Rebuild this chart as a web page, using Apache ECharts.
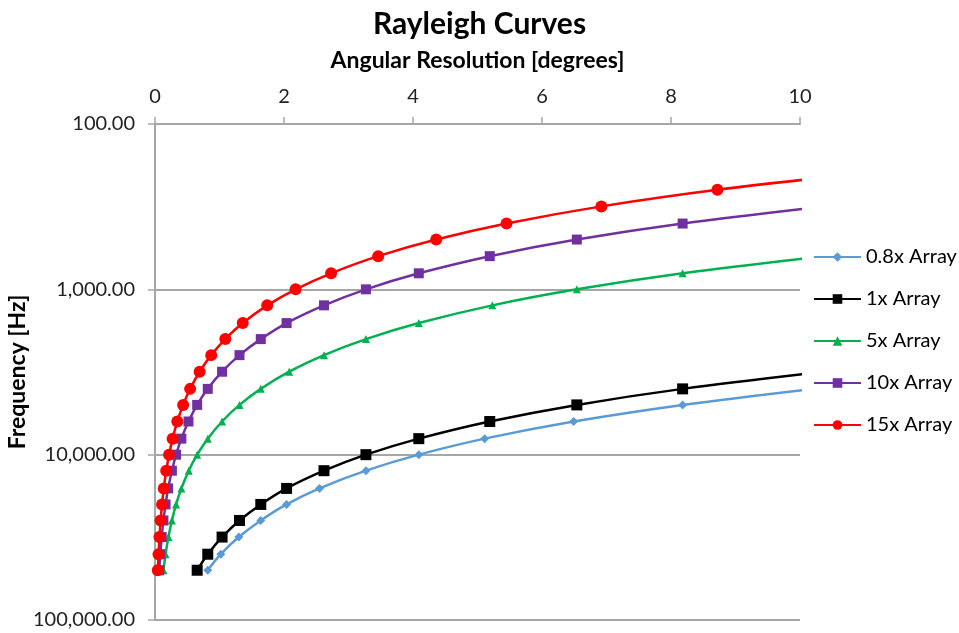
<!DOCTYPE html>
<html>
<head>
<meta charset="utf-8">
<script src="https://cdn.jsdelivr.net/npm/echarts@6/dist/echarts.min.js"></script>
<style>
html,body{margin:0;padding:0;background:#fff;}
#chart{width:959px;height:633px;}
</style>
</head>
<body>
<div id="chart"></div>
<script>
// Frequencies [Hz] at which each curve has a marker (third-octave bands)
var freqs = [50000,40000,31500,25000,20000,16000,12500,10000,8000,6300,5000,4000,3150,2500,2000,1600,1250,1000,800,630,500,400,315,250,200];
var seriesNames = ['0.8x Array','1x Array','5x Array','10x Array','15x Array'];
// Angular resolution [degrees] read for each frequency above
var angle08x = [0.818,1.02,1.30,1.64,2.04,2.55,3.27,4.09,5.11,6.49,8.18,10.2];
var angle1x  = [0.654,0.818,1.04,1.31,1.64,2.04,2.62,3.27,4.09,5.19,6.54,8.18,10.38];
var angle5x  = [0.131,0.164,0.208,0.262,0.327,0.409,0.523,0.654,0.818,1.04,1.31,1.64,2.08,2.62,3.27,4.09,5.23,6.54,8.18,10.38];
var angle10x = [0.0654,0.0818,0.104,0.131,0.164,0.204,0.262,0.327,0.409,0.519,0.654,0.818,1.04,1.31,1.64,2.04,2.62,3.27,4.09,5.19,6.54,8.18,10.38];
var angle15x = [0.0436,0.0545,0.0692,0.0872,0.109,0.136,0.174,0.218,0.273,0.346,0.436,0.545,0.692,0.872,1.09,1.36,1.74,2.18,2.73,3.46,4.36,5.45,6.92,8.72,10.9];
var xTicks = [0,2,4,6,8,10];
var yTicks = [100,1000,10000,100000];

function pairs(angles){ return angles.map(function(a,i){ return [a, freqs[i]]; }); }

var FONT = 'Lato';
var styles = [
  {color:'#5B9BD5', symbol:'diamond', size:9},
  {color:'#000000', symbol:'rect', size:11},
  {color:'#00B050', symbol:'triangle', size:8},
  {color:'#7030A0', symbol:'rect', size:10},
  {color:'#FF0000', symbol:'circle', size:12}
];
var allAngles = [angle08x, angle1x, angle5x, angle10x, angle15x];

var chart = echarts.init(document.getElementById('chart'), null, {renderer:'canvas'});
chart.setOption({
  animation:false,
  backgroundColor:'#fff',
  title:{
    text:'Rayleigh Curves', left:'center', top:4,
    textStyle:{fontFamily:FONT, fontWeight:'bold', fontSize:30, color:'#000'}
  },
  legend:{
    orient:'vertical', left:813, top:247, padding:0,
    itemWidth:47, itemHeight:12, itemGap:22,
    textStyle:{fontFamily:FONT, fontSize:20, color:'#000'},
    data:seriesNames
  },
  grid:{left:155, right:159, top:124, bottom:13, containLabel:false, outerBoundsMode:'none'},
  xAxis:{
    type:'value', position:'top', min:0, max:10, interval:2,
    name:'Angular Resolution [degrees]', nameLocation:'middle', nameGap:52, nameMoveOverlap:false,
    nameTextStyle:{fontFamily:FONT, fontWeight:'bold', fontSize:23, color:'#000'},
    axisLine:{show:true, lineStyle:{color:'#a6a6a6', width:2}},
    axisTick:{show:true, inside:false, length:7, lineStyle:{color:'#a6a6a6', width:1.5}},
    axisLabel:{fontFamily:FONT, fontSize:20, color:'#222', margin:17,
      formatter:function(v){ return xTicks.indexOf(v) >= 0 ? String(v) : ''; }},
    splitLine:{show:false}
  },
  yAxis:{
    type:'log', logBase:10, min:100, max:100000, inverse:true,
    name:'Frequency [Hz]', nameLocation:'middle', nameGap:126, nameRotate:90, nameMoveOverlap:false,
    nameTextStyle:{fontFamily:FONT, fontWeight:'bold', fontSize:23, color:'#000'},
    axisLine:{show:true, lineStyle:{color:'#a6a6a6', width:2}},
    axisTick:{show:true, inside:false, length:7, lineStyle:{color:'#a6a6a6', width:1.5}},
    axisLabel:{fontFamily:FONT, fontSize:20, color:'#222', margin:20,
      formatter:function(v){
        var r = Math.round(v);
        if (yTicks.indexOf(r) < 0) return '';
        return r.toLocaleString('en-US',{minimumFractionDigits:2, maximumFractionDigits:2});
      }},
    splitLine:{show:true, lineStyle:{color:'#a6a6a6', width:2}}
  },
  series: seriesNames.map(function(n, i){
    var s = styles[i];
    return {
      name:n, type:'line', data:pairs(allAngles[i]),
      smooth:0.35, clip:true,
      symbol:s.symbol, symbolSize:s.size, showSymbol:true,
      lineStyle:{color:s.color, width:2.5},
      itemStyle:{color:s.color},
      emphasis:{disabled:true}
    };
  })
});
</script>
</body>
</html>
